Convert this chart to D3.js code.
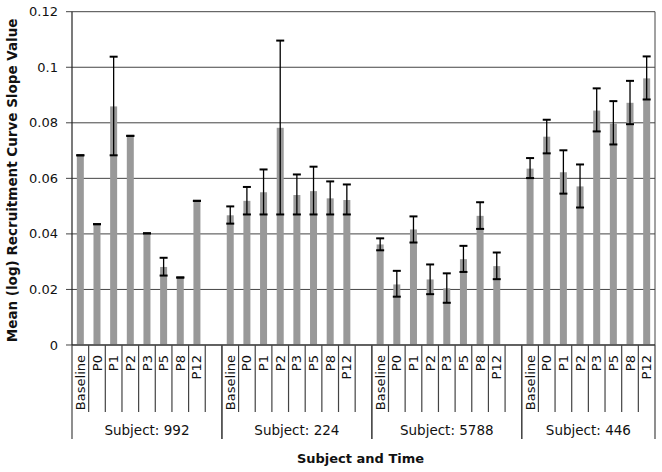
<!DOCTYPE html>
<meta charset='utf-8'>
<style>
  body { margin: 0; background: #fff; }
  text { font-family: "DejaVu Sans", Verdana, sans-serif; fill: #111; }
  .grid line { stroke: #444; stroke-width: 1; }
</style>
<body>
<div id="viz"></div>
<script src="https://d3js.org/d3.v7.min.js"></script>
<script>

// groups and time points
var subjects = ['992', '224', '5788', '446'];
var times = ['Baseline', 'P0', 'P1', 'P2', 'P3', 'P5', 'P8', 'P12'];

// mean values, one row per subject
var means = [
  [0.0683, 0.0435, 0.0859, 0.0753, 0.0402, 0.0281, 0.0243, 0.0519],
  [0.0467, 0.0519, 0.0550, 0.0782, 0.0540, 0.0554, 0.0528, 0.0522],
  [0.0362, 0.0218, 0.0416, 0.0236, 0.0204, 0.0309, 0.0465, 0.0284],
  [0.0635, 0.0750, 0.0622, 0.0571, 0.0844, 0.0797, 0.0872, 0.0960]
];
// lower and upper ends of the error bars
var errLo = [
  [0.0683, 0.0435, 0.0683, 0.0753, 0.0402, 0.0250, 0.0243, 0.0519],
  [0.0437, 0.0470, 0.0470, 0.0470, 0.0470, 0.0470, 0.0470, 0.0470],
  [0.0341, 0.0174, 0.0369, 0.0183, 0.0152, 0.0263, 0.0418, 0.0237],
  [0.0601, 0.0690, 0.0545, 0.0495, 0.0769, 0.0722, 0.0795, 0.0884]
];
var errHi = [
  [0.0683, 0.0435, 0.1038, 0.0753, 0.0402, 0.0314, 0.0243, 0.0519],
  [0.0499, 0.0569, 0.0632, 0.1096, 0.0614, 0.0642, 0.0589, 0.0578],
  [0.0384, 0.0267, 0.0463, 0.0290, 0.0258, 0.0357, 0.0514, 0.0333],
  [0.0673, 0.0811, 0.0701, 0.0650, 0.0924, 0.0878, 0.0951, 0.1039]
];
var yTicks = [0, 0.02, 0.04, 0.06, 0.08, 0.1, 0.12];

var data = [];
subjects.forEach(function(s, i) {
  times.forEach(function(t, j) {
    data.push({subject: s, time: t, key: s + '|' + t, mean: means[i][j], lo: errLo[i][j], hi: errHi[i][j]});
  });
});

// one empty slot between subjects
var slots = [];
subjects.forEach(function(s, i) {
  times.forEach(function(t) { slots.push(s + '|' + t); });
  if (i < subjects.length - 1) slots.push(s + '|gap');
});

var totalWidth = 662, totalHeight = 472;
var margin = {left: 72, right: 7, top: 11.7, bottom: 127};
var width = totalWidth - margin.left - margin.right;
var height = totalHeight - margin.top - margin.bottom;

var svg = d3.select('#viz').append('svg')
  .attr('width', totalWidth).attr('height', totalHeight)
  .append('g').attr('transform', 'translate(' + margin.left + ',' + margin.top + ')');

var x = d3.scaleBand().domain(slots).range([0, width]).padding(0);
var y = d3.scaleLinear().domain([0, 0.12]).range([height, 0]);
var step = x.step();
var barW = 7;

// gridlines + left ticks
var grid = svg.append('g').attr('class', 'grid');
grid.selectAll('line').data(yTicks).enter().append('line')
  .attr('x1', -6).attr('x2', width)
  .attr('y1', function(d) { return y(d); }).attr('y2', function(d) { return y(d); });

svg.append('g').selectAll('text').data(yTicks).enter().append('text')
  .attr('x', -14).attr('y', function(d) { return y(d); })
  .attr('dy', '0.35em').attr('text-anchor', 'end')
  .style('font-size', '13px')
  .text(d3.format('~g'));

// bars
svg.append('g').selectAll('rect').data(data).enter().append('rect')
  .attr('x', function(d) { return x(d.key) + (step - barW) / 2; })
  .attr('width', barW)
  .attr('y', function(d) { return y(d.mean); })
  .attr('height', function(d) { return y(0) - y(d.mean); })
  .attr('fill', '#999');

// error bars
var err = svg.append('g').attr('stroke', '#000');
data.forEach(function(d) {
  var cx = x(d.key) + step / 2;
  if (d.hi > d.lo) {
    err.append('line').attr('x1', cx).attr('x2', cx)
      .attr('y1', y(d.hi)).attr('y2', y(d.lo)).attr('stroke-width', 1.3);
  }
  [d.lo, d.hi].forEach(function(v) {
    err.append('line').attr('x1', cx - barW / 2 - 0.5).attr('x2', cx + barW / 2 + 0.5)
      .attr('y1', y(v)).attr('y2', y(v)).attr('stroke-width', 2);
  });
});

// frame
svg.append('line').attr('x1', 0).attr('x2', 0).attr('y1', 0).attr('y2', height)
  .attr('stroke', '#222').attr('stroke-width', 1.2);
svg.append('line').attr('x1', width).attr('x2', width).attr('y1', 0).attr('y2', height)
  .attr('stroke', '#444');
svg.append('line').attr('x1', 0).attr('x2', width).attr('y1', height).attr('y2', height)
  .attr('stroke', '#222').attr('stroke-width', 1.2);

// category axis: separators between time points
var xAxis = svg.append('g').attr('transform', 'translate(0,' + height + ')');
subjects.forEach(function(s, i) {
  var start = x(s + '|' + times[0]);
  var groupEnd = i < subjects.length - 1 ? x(s + '|gap') + step : width;
  d3.range(1, times.length + 1).forEach(function(k) {
    var xx = start + k * step;
    if (i == subjects.length - 1 && k == times.length) return;
    xAxis.append('line').attr('x1', xx).attr('x2', xx).attr('y1', 0).attr('y2', 67)
      .attr('stroke', '#444').attr('stroke-width', 1.2);
  });
  // group boundaries
  [start, groupEnd].forEach(function(xx) {
    xAxis.append('line').attr('x1', xx).attr('x2', xx).attr('y1', 0).attr('y2', 94)
      .attr('stroke', '#444').attr('stroke-width', 1.2);
  });
  xAxis.append('text')
    .attr('x', (start + groupEnd) / 2).attr('y', 90)
    .attr('text-anchor', 'middle').style('font-size', '13.5px')
    .text('Subject: ' + s);
});

xAxis.selectAll('text.cat').data(data).enter().append('text')
  .attr('class', 'cat')
  .attr('transform', function(d) {
    return 'translate(' + (x(d.key) + step / 2) + ',10) rotate(-90)';
  })
  .attr('dy', '0.35em').attr('text-anchor', 'end')
  .style('font-size', '13px')
  .text(function(d) { return d.time; });

// axis titles
svg.append('text')
  .attr('x', width / 2 - 3).attr('y', height + 118)
  .attr('text-anchor', 'middle')
  .style('font-size', '13px').style('font-weight', 'bold')
  .text('Subject and Time');

svg.append('text')
  .attr('transform', 'translate(' + (-margin.left + 12) + ',' + (height / 2 + 2) + ') rotate(-90)')
  .attr('dy', '0.35em').attr('text-anchor', 'middle')
  .style('font-size', '13.5px').style('font-weight', 'bold')
  .text('Mean (log) Recruitment Curve Slope Value');

</script>
